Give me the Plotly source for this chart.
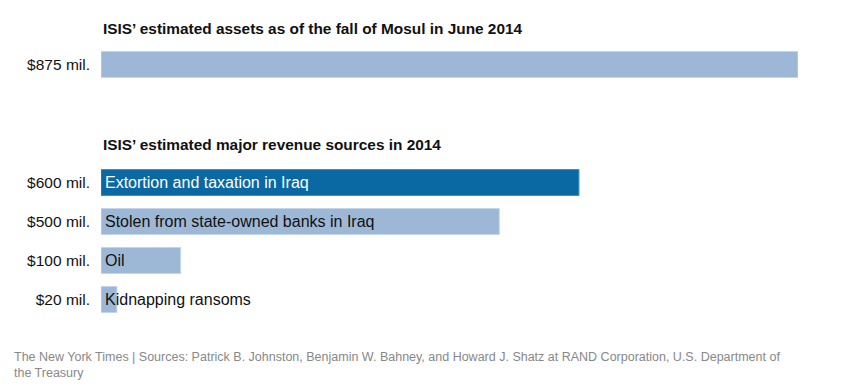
import plotly.graph_objects as go

# Data
asset_labels = ["$875 mil."]
asset_values = [875]

revenue_labels = ["$600 mil.", "$500 mil.", "$100 mil.", "$20 mil."]
revenue_values = [600, 500, 100, 20]
revenue_names = ["Extortion and taxation in Iraq", "Stolen from state-owned banks in Iraq", "Oil", "Kidnapping ransoms"]
revenue_colors = ["#0a69a2", "#9db8d7", "#9db8d7", "#9db8d7"]
revenue_edge = ["#3f8fc6", "#c3d6ea", "#c3d6ea", "#c3d6ea"]

title_assets = "ISIS’ estimated assets as of the fall of Mosul in June 2014"
title_revenue = "ISIS’ estimated major revenue sources in 2014"
footer = ("The New York Times | Sources: Patrick B. Johnston, Benjamin W. Bahney, and Howard J. Shatz at RAND Corporation, U.S. Department of"
          "<br>the Treasury")

OFF = 8  # page body margin
W, H = 864 - OFF, 392 - OFF
L, R = 101 - OFF, 798 - OFF

def py(px):
    return 1 - (px - OFF) / H

fig = go.Figure()
fig.add_trace(go.Bar(x=asset_values, y=asset_labels, orientation="h",
                     marker=dict(color="#9db8d7", line=dict(color="#c3d6ea", width=1)),
                     xaxis="x", yaxis="y", hoverinfo="skip"))
fig.add_trace(go.Bar(x=revenue_values, y=revenue_labels, orientation="h",
                     marker=dict(color=revenue_colors, line=dict(color=revenue_edge, width=1)),
                     xaxis="x2", yaxis="y2", hoverinfo="skip"))

axis_font = dict(family="Liberation Sans, Arial, sans-serif", size=15.5, color="#111")
xcommon = dict(range=[0, 875], showgrid=False, zeroline=False, showticklabels=False, showline=False, fixedrange=True)
fig.update_layout(
    width=W, height=H,
    margin=dict(l=L, r=W - R, t=0, b=0),
    paper_bgcolor="white", plot_bgcolor="white",
    showlegend=False, bargap=0.333,
    xaxis=dict(**xcommon, anchor="y"),
    xaxis2=dict(**xcommon, anchor="y2"),
    yaxis=dict(domain=[py(84), py(45)], anchor="x", autorange="reversed", showgrid=False,
               zeroline=False, showline=False, tickfont=axis_font, ticklabelstandoff=10, ticks=""),
    yaxis2=dict(domain=[py(319), py(163)], anchor="x2", autorange="reversed", showgrid=False,
                zeroline=False, showline=False, tickfont=axis_font, ticklabelstandoff=10, ticks=""),
)

title_font = dict(family="Liberation Sans, Arial, sans-serif", size=15.4, color="#111")
ann = [
    dict(text="<b>" + title_assets + "</b>", xref="paper", yref="paper", x=0, y=py(28),
         xanchor="left", yanchor="middle", showarrow=False, font=title_font),
    dict(text="<b>" + title_revenue + "</b>", xref="paper", yref="paper", x=0, y=py(144),
         xanchor="left", yanchor="middle", showarrow=False, font=title_font),
]
for i, (lab, name) in enumerate(zip(revenue_labels, revenue_names)):
    ann.append(dict(text=name, xref="x2", yref="y2", x=0, y=lab, xanchor="left", yanchor="middle",
                    xshift=2, showarrow=False,
                    font=dict(family="Liberation Sans, Arial, sans-serif", size=16,
                              color="white" if i == 0 else "#111")))
ann.append(dict(text=footer, xref="paper", yref="paper", x=(12 - 101) / (798 - 101), y=py(348),
                xanchor="left", yanchor="top", align="left", showarrow=False,
                font=dict(family="Liberation Sans, Arial, sans-serif", size=12.5, color="#888")))
fig.update_layout(annotations=ann)

fig.write_html("out.html")
